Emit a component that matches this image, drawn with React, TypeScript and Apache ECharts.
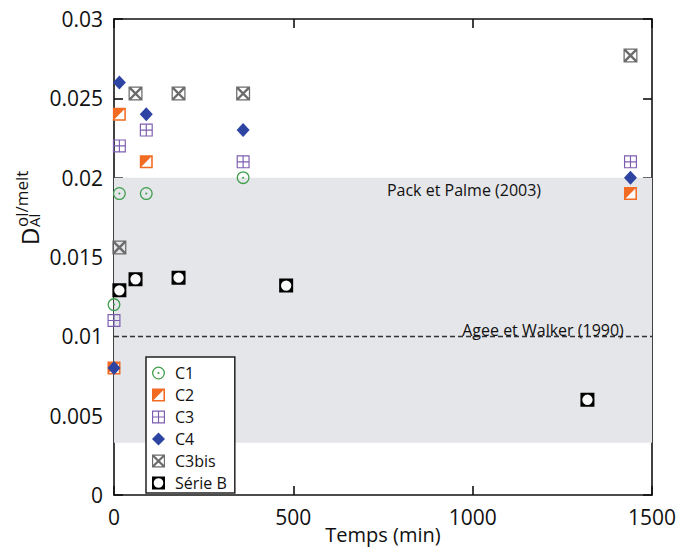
import React, { useEffect, useRef } from "react";
import * as echarts from "echarts";

// ---- data (time in min, D value) ----
const C1_X = [0, 15, 90, 360];
const C1_Y = [0.012, 0.019, 0.019, 0.02];
const C2_X = [0, 15, 90, 1440];
const C2_Y = [0.008, 0.024, 0.021, 0.019];
const C3_X = [0, 15, 90, 360, 1440];
const C3_Y = [0.011, 0.022, 0.023, 0.021, 0.021];
const C4_X = [0, 15, 90, 360, 1440];
const C4_Y = [0.008, 0.026, 0.024, 0.023, 0.02];
const C3BIS_X = [15, 60, 180, 360, 1440];
const C3BIS_Y = [0.0156, 0.0253, 0.0253, 0.0253, 0.0277];
const SERIEB_X = [15, 60, 180, 480, 1320];
const SERIEB_Y = [0.0129, 0.0136, 0.0137, 0.0132, 0.006];

const SERIES_NAMES = ["C1", "C2", "C3", "C4", "C3bis", "Série B"];
const BAND = [0.0033, 0.02]; // Pack et Palme (2003)
const REF_LINE = 0.0096; // Agee et Walker (1990)
const X_TICKS = [0, 500, 1000, 1500];
const Y_TICKS = [0, 0.005, 0.01, 0.015, 0.02, 0.025, 0.03];

const FONT = '"Open Sans", "Noto Sans", sans-serif';
const INK = "#111111";

const zip = (xs: number[], ys: number[]) => xs.map((x, i) => [x, ys[i]]);

// symbol paths
const SQ = "M0,0 L100,0 L100,100 L0,100 Z ";
const C1_PATH =
  "path://M50,0 A50,50 0 1,1 50,100 A50,50 0 1,1 50,0 Z M50,10 A40,40 0 1,0 50,90 A40,40 0 1,0 50,10 Z M50,42 A8,8 0 1,1 50,58 A8,8 0 1,1 50,42 Z";
const C2_PATH = "path://" + SQ + "M12,12 L12,88 L88,88 L88,12 Z M12,12 L88,12 L12,88 Z";
const C3_PATH =
  "path://" +
  SQ +
  "M9,9 L9,45.5 L45.5,45.5 L45.5,9 Z M54.5,9 L54.5,45.5 L91,45.5 L91,9 Z M9,54.5 L9,91 L45.5,91 L45.5,54.5 Z M54.5,54.5 L54.5,91 L91,91 L91,54.5 Z";
const C3BIS_PATH =
  "path://" +
  SQ +
  "M9,9 L9,91 L91,91 L91,9 Z M9,9 L21,9 L91,79 L91,91 L79,91 L9,21 Z M91,9 L91,21 L21,91 L9,91 L9,79 L79,9 Z";
const SERIEB_PATH = "path://" + SQ + "M50,13 A37,37 0 1,0 50,87 A37,37 0 1,0 50,13 Z";

const txt = (
  text: string,
  x: number,
  y: number,
  fontSize: number,
  align: string,
  rotation = 0
) => ({
  type: "text",
  x,
  y,
  rotation,
  z: 100,
  silent: true,
  style: {
    text,
    fontSize,
    fontFamily: FONT,
    fill: INK,
    align,
    verticalAlign: "middle",
    textAlign: align,
    textVerticalAlign: "middle",
  },
});

export default function App() {
  const ref = useRef<HTMLDivElement>(null);
  useEffect(() => {
    const chart = echarts.init(ref.current!, null, { renderer: "svg" });
    const axisCommon = {
      axisLine: { show: true, onZero: false, lineStyle: { color: INK, width: 1.6 } },
      axisTick: { show: true, inside: true, length: 9, lineStyle: { color: INK, width: 1.6 } },
      splitLine: { show: false },
    };
    const option = {
      animation: false,
      backgroundColor: "#ffffff",
      grid: {
        left: 114,
        right: 31,
        top: 19,
        bottom: 53,
        containLabel: false,
        outerBoundsMode: "none",
      },
      xAxis: [
        {
          type: "value",
          position: "bottom",
          min: X_TICKS[0],
          max: X_TICKS[X_TICKS.length - 1],
          interval: 500,
          ...axisCommon,
          axisLabel: {
            fontSize: 21,
            margin: 11,
            color: INK,
            fontFamily: FONT,
            formatter: (v: number) => String(v),
          },
          name: "Temps (min)",
          nameLocation: "middle",
          nameGap: 28,
          nameMoveOverlap: false,
          nameTextStyle: { fontSize: 20, lineHeight: 22, color: INK, fontFamily: FONT },
        },
        {
          type: "value",
          position: "top",
          min: X_TICKS[0],
          max: X_TICKS[X_TICKS.length - 1],
          interval: 500,
          ...axisCommon,
          axisLabel: { show: false },
        },
      ],
      yAxis: [
        {
          type: "value",
          position: "left",
          min: Y_TICKS[0],
          max: Y_TICKS[Y_TICKS.length - 1],
          interval: 0.005,
          ...axisCommon,
          axisLabel: {
            fontSize: 21,
            margin: 11,
            color: INK,
            fontFamily: FONT,
            formatter: (v: number) => String(+v.toFixed(3)),
          },
        },
        {
          type: "value",
          position: "right",
          min: Y_TICKS[0],
          max: Y_TICKS[Y_TICKS.length - 1],
          interval: 0.005,
          ...axisCommon,
          axisLabel: { show: false },
        },
      ],
      legend: {
        data: SERIES_NAMES,
        orient: "vertical",
        left: 146,
        top: 357,
        padding: [8, 8, 2, 6],
        itemWidth: 13,
        itemHeight: 13,
        itemGap: 6,
        backgroundColor: "#ffffff",
        borderColor: "#222",
        borderWidth: 1.5,
        borderRadius: 0,
        z: 10,
        textStyle: {
          fontSize: 16,
          lineHeight: 15,
          color: INK,
          fontFamily: FONT,
          padding: [0, 0, 0, 5],
        },
      },
      graphic: [
        txt("Pack et Palme (2003)", 464, 190, 16, "center"),
        txt("Agee et Walker (1990)", 543, 330, 16, "center"),
        txt("D", 29, 245, 24, "left", Math.PI / 2),
        txt("Al", 33.5, 227, 15, "left", Math.PI / 2),
        txt("ol/melt", 21, 227, 17, "left", Math.PI / 2),
      ],
      series: [
        {
          name: "_band",
          type: "scatter",
          data: [[0, -1]],
          symbolSize: 0,
          silent: true,
          z: 1,
          markArea: {
            silent: true,
            itemStyle: { color: "#e5e6e9" },
            data: [[{ yAxis: BAND[0] }, { yAxis: BAND[1] }]],
          },
          markLine: {
            silent: true,
            symbol: "none",
            label: { show: false },
            lineStyle: { type: [5, 3], color: "#333", width: 1.3 },
            data: [{ yAxis: REF_LINE }],
          },
        },
        {
          name: "C1",
          type: "scatter",
          data: zip(C1_X, C1_Y),
          symbol: C1_PATH,
          symbolSize: 13,
          itemStyle: { color: "#3f9e4d", opacity: 1 },
        },
        {
          name: "_c2bg",
          type: "scatter",
          data: zip(C2_X, C2_Y),
          symbol: "rect",
          symbolSize: 12,
          silent: true,
          itemStyle: { color: "#ffffff" },
        },
        {
          name: "C2",
          type: "scatter",
          data: zip(C2_X, C2_Y),
          symbol: C2_PATH,
          symbolSize: 13,
          itemStyle: { color: "#f26b22", opacity: 1 },
        },
        {
          name: "C3",
          type: "scatter",
          data: zip(C3_X, C3_Y),
          symbol: C3_PATH,
          symbolSize: 13,
          itemStyle: { color: "#7d5fb0", opacity: 1 },
        },
        {
          name: "C4",
          type: "scatter",
          data: zip(C4_X, C4_Y),
          symbol: "diamond",
          symbolSize: [13, 14],
          itemStyle: { color: "#2d44a3", opacity: 1 },
        },
        {
          name: "C3bis",
          type: "scatter",
          data: zip(C3BIS_X, C3BIS_Y),
          symbol: C3BIS_PATH,
          symbolSize: 14,
          itemStyle: { color: "#6b6b6b", opacity: 1 },
        },
        {
          name: "_sbbg",
          type: "scatter",
          data: zip(SERIEB_X, SERIEB_Y),
          symbol: "circle",
          symbolSize: 11,
          silent: true,
          itemStyle: { color: "#ffffff" },
        },
        {
          name: "Série B",
          type: "scatter",
          data: zip(SERIEB_X, SERIEB_Y),
          symbol: SERIEB_PATH,
          symbolSize: 14,
          itemStyle: { color: "#000000", opacity: 1 },
        },
      ],
    };
    chart.setOption(option as any);
    return () => chart.dispose();
  }, []);
  return (
    <div
      ref={ref}
      style={{ position: "fixed", left: 0, top: 0, width: 683, height: 548 }}
    />
  );
}
